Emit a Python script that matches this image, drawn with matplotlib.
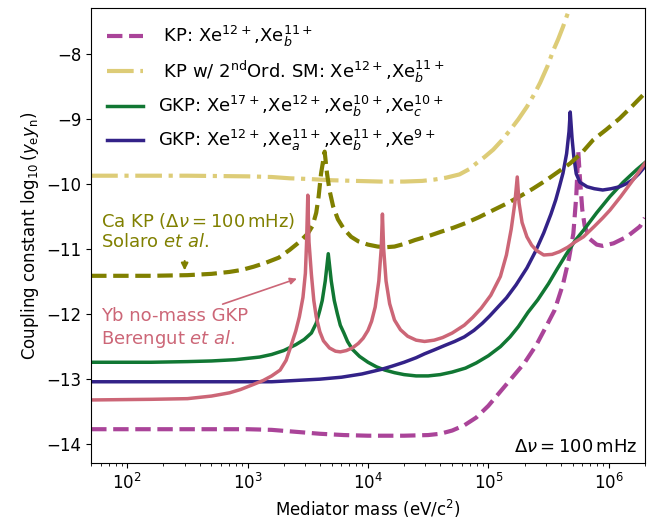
import matplotlib
matplotlib.use('Agg')
import matplotlib.pyplot as plt
import numpy as np

# curves: log10(mass / eV) and log10(y_e y_n)
kp_logm = [1.70, 2.5, 3.0, 3.2, 3.4, 3.6, 3.8, 4.0, 4.3, 4.5, 4.6, 4.7, 4.8, 4.9, 5.0,
           5.1, 5.2, 5.3, 5.4, 5.48, 5.55, 5.62, 5.67, 5.706, 5.73, 5.747, 5.76, 5.78,
           5.80, 5.84, 5.90, 5.95, 6.04, 6.15, 6.26, 6.30]
kp_val = [-13.78, -13.78, -13.78, -13.79, -13.82, -13.85, -13.87, -13.88, -13.88, -13.87,
          -13.85, -13.80, -13.72, -13.60, -13.42, -13.20, -12.98, -12.76, -12.48, -12.20,
          -11.95, -11.55, -11.15, -10.77, -10.2, -9.51, -9.9, -10.4, -10.65, -10.85,
          -10.94, -10.96, -10.92, -10.82, -10.66, -10.53]

sm2_logm = [1.70, 2.5, 3.0, 3.2, 3.35, 3.5, 3.7, 3.9, 4.1, 4.3, 4.45, 4.55, 4.65, 4.76,
            4.84, 4.90, 4.97, 5.04, 5.11, 5.18, 5.25, 5.32, 5.38, 5.43, 5.49, 5.54, 5.58,
            5.62, 5.66, 5.70]
sm2_val = [-9.88, -9.88, -9.89, -9.90, -9.92, -9.93, -9.95, -9.96, -9.97, -9.97, -9.96,
           -9.94, -9.91, -9.86, -9.78, -9.69, -9.59, -9.48, -9.34, -9.18, -9.01, -8.82,
           -8.63, -8.45, -8.20, -7.95, -7.78, -7.59, -7.38, -7.16]

gkp1_logm = [1.70, 2.2, 2.5, 2.7, 2.9, 3.0, 3.1, 3.2, 3.3, 3.4, 3.47, 3.53, 3.57, 3.60,
             3.62, 3.645, 3.67, 3.695, 3.72, 3.745, 3.77, 3.80, 3.83, 3.87, 3.93, 4.0,
             4.07, 4.14, 4.22, 4.3, 4.4, 4.5, 4.6, 4.7, 4.81, 4.9, 5.0, 5.10, 5.18, 5.25,
             5.33, 5.41, 5.5, 5.57, 5.65, 5.72, 5.79, 5.9, 6.01, 6.12, 6.23, 6.30]
gkp1_val = [-12.75, -12.75, -12.74, -12.73, -12.71, -12.69, -12.67, -12.63, -12.57, -12.48,
            -12.40, -12.30, -12.15, -11.95, -11.80, -11.5, -11.08, -11.5, -11.80, -12.0,
            -12.18, -12.30, -12.43, -12.55, -12.66, -12.75, -12.82, -12.87, -12.91, -12.94,
            -12.96, -12.96, -12.94, -12.90, -12.84, -12.76, -12.65, -12.51, -12.36, -12.2,
            -11.98, -11.79, -11.54, -11.32, -11.08, -10.88, -10.72, -10.45, -10.2, -9.98,
            -9.79, -9.68]

gkp2_logm = [1.70, 2.5, 3.2, 3.4, 3.6, 3.78, 3.95, 4.11, 4.2, 4.3, 4.4, 4.47, 4.55, 4.64,
             4.72, 4.80, 4.88, 4.95, 5.01, 5.07, 5.15, 5.23, 5.32, 5.39, 5.46, 5.52, 5.56,
             5.59, 5.62, 5.65, 5.67, 5.68, 5.695, 5.71, 5.73, 5.76, 5.82, 5.88, 5.95, 6.02,
             6.09, 6.15, 6.20, 6.25, 6.30]
gkp2_val = [-13.05, -13.05, -13.05, -13.03, -13.01, -12.98, -12.93, -12.86, -12.81, -12.75,
            -12.68, -12.62, -12.56, -12.49, -12.43, -12.36, -12.26, -12.15, -12.04, -11.92,
            -11.76, -11.56, -11.30, -11.05, -10.76, -10.47, -10.25, -10.05, -9.84, -9.54,
            -9.2, -8.9, -9.3, -9.59, -9.85, -9.98, -10.05, -10.08, -10.1, -10.08, -10.05,
            -10.0, -9.94, -9.85, -9.74]

ca_logm = [1.70, 2.2, 2.5, 2.7, 2.85, 2.95, 3.05, 3.15, 3.26, 3.35, 3.43, 3.50, 3.54,
           3.57, 3.59, 3.61, 3.64, 3.66, 3.68, 3.71, 3.75, 3.80, 3.86, 3.92, 4.0, 4.08,
           4.15, 4.22, 4.30, 4.39, 4.5, 4.61, 4.71, 4.81, 4.92, 5.04, 5.15, 5.26, 5.37,
           5.48, 5.58, 5.68, 5.78, 5.87, 5.98, 6.09, 6.20, 6.30]
ca_val = [-11.42, -11.42, -11.41, -11.39, -11.36, -11.33, -11.28, -11.22, -11.14, -11.02,
          -10.90, -10.77, -10.65, -10.45, -10.2, -9.85, -9.51, -9.85, -10.1, -10.35,
          -10.55, -10.70, -10.82, -10.89, -10.94, -10.97, -10.98, -10.97, -10.93, -10.87,
          -10.81, -10.74, -10.68, -10.61, -10.52, -10.41, -10.31, -10.2, -10.08, -9.95,
          -9.82, -9.69, -9.52, -9.33, -9.17, -9.0, -8.8, -8.61]

yb_logm = [1.70, 2.2, 2.5, 2.7, 2.85, 2.94, 3.05, 3.13, 3.2, 3.27, 3.32, 3.36, 3.40, 3.43,
           3.46, 3.48, 3.49, 3.50, 3.51, 3.53, 3.55, 3.57, 3.60, 3.63, 3.68, 3.73, 3.77,
           3.82, 3.87, 3.92, 3.96, 4.0, 4.03, 4.06, 4.09, 4.11, 4.12, 4.13, 4.15, 4.18,
           4.22, 4.27, 4.33, 4.40, 4.47, 4.55, 4.62, 4.70, 4.80, 4.87, 4.94, 5.02, 5.10,
           5.15, 5.19, 5.22, 5.24, 5.255, 5.28, 5.32, 5.36, 5.40, 5.46, 5.53, 5.59, 5.66,
           5.72, 5.79, 5.88, 5.95, 6.01, 6.1, 6.2, 6.30]
yb_val = [-13.33, -13.32, -13.31, -13.27, -13.22, -13.17, -13.09, -13.03, -12.96, -12.87,
          -12.72, -12.50, -12.27, -12.05, -11.75, -11.38, -10.9, -10.18, -10.9, -11.4,
          -11.8, -12.05, -12.28, -12.42, -12.53, -12.58, -12.59, -12.57, -12.53, -12.46,
          -12.38, -12.26, -12.12, -11.9, -11.5, -11.0, -10.47, -11.0, -11.5, -11.85,
          -12.1, -12.25, -12.35, -12.41, -12.43, -12.41, -12.37, -12.30, -12.18, -12.06,
          -11.92, -11.72, -11.43, -11.1, -10.7, -10.3, -9.9, -10.3, -10.6, -10.82,
          -10.95, -11.03, -11.1, -11.09, -11.05, -10.98, -10.9, -10.82, -10.66, -10.53,
          -10.41, -10.2, -9.95, -9.69]

c_kp = '#AA4499'
c_sm2 = '#DDCC77'
c_gkp1 = '#117733'
c_gkp2 = '#332288'
c_ca = '#808000'
c_yb = '#CC6677'

fig = plt.figure(figsize=(6.56, 5.23), dpi=100)
ax = fig.add_axes([0.1387, 0.1147, 0.8445, 0.870])

ax.plot(10 ** np.array(kp_logm), kp_val, '--', color=c_kp, lw=3,
        label=r' KP: Xe$^{12+}$,Xe$_b^{11+}$')
ax.plot(10 ** np.array(sm2_logm), sm2_val, '-.', color=c_sm2, lw=3,
        label=r' KP w/ 2$^{\rm nd}$Ord. SM: Xe$^{12+}$,Xe$_b^{11+}$')
ax.plot(10 ** np.array(gkp1_logm), gkp1_val, '-', color=c_gkp1, lw=2.5,
        label=r'GKP: Xe$^{17+}$,Xe$^{12+}$,Xe$_b^{10+}$,Xe$_c^{10+}$')
ax.plot(10 ** np.array(gkp2_logm), gkp2_val, '-', color=c_gkp2, lw=2.5,
        label=r'GKP: Xe$^{12+}$,Xe$_a^{11+}$,Xe$_b^{11+}$,Xe$^{9+}$')
ax.plot(10 ** np.array(ca_logm), ca_val, '--', color=c_ca, lw=3)
ax.plot(10 ** np.array(yb_logm), yb_val, '-', color=c_yb, lw=2.5)

ax.text(61, -10.73, 'Ca KP ($\\Delta\\nu = 100\\,\\mathrm{mHz}$)\nSolaro $et\\ al$.',
        color=c_ca, fontsize=13, va='center', ha='left')
ax.annotate('', xy=(300, -11.38), xytext=(300, -11.15),
            arrowprops=dict(arrowstyle='-|>', color=c_ca, lw=1.5, mutation_scale=10))
ax.text(61, -12.23, 'Yb no-mass GKP\nBerengut $et\\ al$.', color=c_yb,
        fontsize=13, va='center', ha='left')
ax.annotate('', xy=(2700, -11.45), xytext=(590, -11.87),
            arrowprops=dict(arrowstyle='-|>', color=c_yb, lw=1.2, mutation_scale=10))
ax.text(0.987, 0.035, r'$\Delta\nu = 100\,\mathrm{mHz}$', transform=ax.transAxes,
        ha='right', va='center', fontsize=13)

ax.set_xscale('log')
ax.set_xlim(50, 2e6)
ax.set_ylim(-14.3, -7.3)
ax.set_yticks([-14, -13, -12, -11, -10, -9, -8])
ax.tick_params(labelsize=12)
ax.set_xlabel(r'Mediator mass (eV/c$^2$)', fontsize=12)
ax.set_ylabel(r'Coupling constant $\log_{10}(y_\mathrm{e}y_\mathrm{n})$', fontsize=12)
ax.legend(loc='upper left', frameon=False, fontsize=13)

fig.savefig('out.png', dpi=100)
plt.close()
